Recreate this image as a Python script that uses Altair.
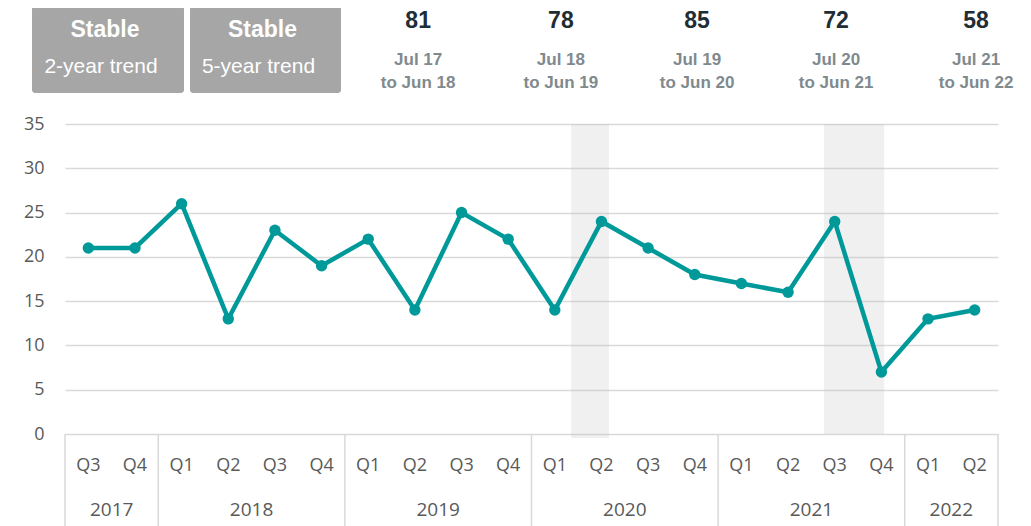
import altair as alt
import pandas as pd

# ---- data ----
quarters = ["Q3", "Q4", "Q1", "Q2", "Q3", "Q4", "Q1", "Q2", "Q3", "Q4",
            "Q1", "Q2", "Q3", "Q4", "Q1", "Q2", "Q3", "Q4", "Q1", "Q2"]
years = [2017, 2017, 2018, 2018, 2018, 2018, 2019, 2019, 2019, 2019,
         2020, 2020, 2020, 2020, 2021, 2021, 2021, 2021, 2022, 2022]
values = [21, 21, 26, 13, 23, 19, 22, 14, 25, 22,
          14, 24, 21, 18, 17, 16, 24, 7, 13, 14]

period_totals = [81, 78, 85, 72, 58]
period_from = ["Jul 17", "Jul 18", "Jul 19", "Jul 20", "Jul 21"]
period_to = ["to Jun 18", "to Jun 19", "to Jun 20", "to Jun 21", "to Jun 22"]

trend_status = ["Stable", "Stable"]
trend_label = ["2-year trend", "5-year trend"]

# shaded periods, in quarter-index units
shade_start = [10.35, 15.77]
shade_end = [11.16, 17.06]
shade_bottom = [-0.45, 0.0]

# ---- layout (pixels / index positions) ----
header_pos = [7.07, 10.13, 13.05, 16.03, 19.03]
box_x = [(-33, 119), (125, 276)]
PLOT_W, PLOT_H = 933, 310

df = pd.DataFrame({"idx": list(range(len(values))), "quarter": quarters,
                   "year": years, "value": values})

grp = df.groupby("year")["idx"].agg(["min", "max"]).reset_index()
grp["start"] = grp["min"] - 0.5
grp["end"] = grp["max"] + 0.5
grp["center"] = (grp["start"] + grp["end"]) / 2
bounds = sorted(set(grp["start"].tolist() + grp["end"].tolist()))
bounds_df = pd.DataFrame({"b": bounds})
years_df = grp[["year", "center"]].assign(year=lambda d: d["year"].astype(str))

shade_df = pd.DataFrame({"s": shade_start, "e": shade_end, "top": [35] * 2,
                         "bot": shade_bottom})
header_df = pd.DataFrame({"pos": header_pos, "total": [str(v) for v in period_totals],
                          "f": period_from, "t": period_to})

xscale = alt.Scale(domain=[-0.5, 19.5], nice=False, zero=False)
yscale = alt.Scale(domain=[0, 35], nice=False)

TEAL = "#00999a"
AXIS_FONT = "Open Sans"
HEAD_FONT = "Liberation Sans"

yaxis = alt.Axis(values=list(range(0, 36, 5)), grid=True, domain=False,
                 ticks=False, labelFont=AXIS_FONT, labelFontSize=18,
                 labelColor="#595959", labelPadding=21,
                 gridColor="#d9d9d9", gridWidth=1.5, title=None)


def X(field):
    return alt.X(field, scale=xscale, axis=None, title=None)


def Y(field):
    return alt.Y(field, scale=yscale, axis=yaxis, title=None)


base = alt.Chart(df)

line = base.mark_line(color=TEAL, strokeWidth=4.5).encode(x=X("idx:Q"), y=Y("value:Q"))
pts = base.mark_circle(color=TEAL, size=130, opacity=1).encode(x=X("idx:Q"), y=Y("value:Q"))

shade = alt.Chart(shade_df).mark_rect(color="#bbbbbb", opacity=0.224).encode(
    x=X("s:Q"), x2="e:Q", y=Y("top:Q"), y2="bot:Q",
)

seps = alt.Chart(bounds_df).mark_rule(color="#d9d9d9", strokeWidth=1.5).encode(
    x=X("b:Q"), y=alt.value(PLOT_H), y2=alt.value(PLOT_H + 110),
)

qlab = base.mark_text(font=AXIS_FONT, fontSize=18, color="#595959",
                      baseline="middle").encode(
    x=X("idx:Q"), y=alt.value(PLOT_H + 32), text="quarter:N",
)
ylab = alt.Chart(years_df).mark_text(font=AXIS_FONT, fontSize=19, color="#595959",
                                     baseline="middle").encode(
    x=X("center:Q"), y=alt.value(PLOT_H + 76), text="year:N",
)

head_num = alt.Chart(header_df).mark_text(font=HEAD_FONT, fontSize=23, fontWeight="bold",
                                          color="#1f2d35", baseline="middle").encode(
    x=X("pos:Q"), y=alt.value(-103), text="total:N")
head_f = alt.Chart(header_df).mark_text(font=HEAD_FONT, fontSize=17, fontWeight="bold",
                                        color="#7f8a8e", baseline="middle").encode(
    x=X("pos:Q"), y=alt.value(-64), text="f:N")
head_t = alt.Chart(header_df).mark_text(font=HEAD_FONT, fontSize=17, fontWeight="bold",
                                        color="#7f8a8e", baseline="middle").encode(
    x=X("pos:Q"), y=alt.value(-41), text="t:N")

layers = [shade, line, pts, seps, qlab, ylab, head_num, head_f, head_t]

for i, (x0, x1) in enumerate(box_x):
    bd = pd.DataFrame({"status": [trend_status[i]], "label": [trend_label[i]]})
    c = (x0 + x1) / 2
    box = alt.Chart(bd).mark_rect(color="#a6a6a6", cornerRadius=3).encode(
        x=alt.value(x0), x2=alt.value(x1), y=alt.value(-118), y2=alt.value(-31))
    st = alt.Chart(bd).mark_text(font=HEAD_FONT, fontSize=23, fontWeight="bold",
                                 color="white", baseline="middle").encode(
        x=alt.value(c - 3), y=alt.value(-94), text="status:N")
    lb = alt.Chart(bd).mark_text(font=HEAD_FONT, fontSize=21, color="white",
                                 baseline="middle").encode(
        x=alt.value(c - 7), y=alt.value(-57), text="label:N")
    layers += [box, st, lb]

chart = alt.layer(*layers).properties(
    width=PLOT_W, height=PLOT_H,
    autosize=alt.AutoSizeParams(type="none"),
    padding={"left": 57, "top": 116, "right": 17, "bottom": 92},
    background="white",
).configure_view(stroke=None)

chart.save("out.html", embed_options={"renderer": "svg", "actions": False})
